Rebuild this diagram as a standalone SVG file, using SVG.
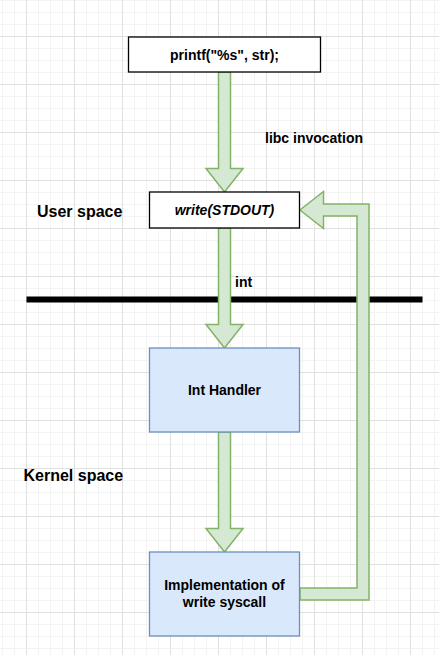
<svg xmlns="http://www.w3.org/2000/svg" width="439" height="655" viewBox="0 0 439 655">
  <defs>
    <pattern id="grid" patternUnits="userSpaceOnUse" x="26" y="36" width="48" height="48">
      <path d="M12.5,0V48M24.5,0V48M36.5,0V48M0,12.5H48M0,24.5H48M0,36.5H48" stroke="#f3f3f3" stroke-width="1" fill="none"/>
      <path d="M0.5,0V48M0,0.5H48" stroke="#e0e0e0" stroke-width="1" fill="none"/>
    </pattern>
    <style>
      .t { font-family: "Liberation Sans", Arial, sans-serif; font-weight: bold; fill: #000; }
      .plain { fill: #ffffff; stroke: #000000; stroke-width: 1.3; }
      .blue { fill: #dae8fc; stroke: #6c8ebf; stroke-width: 1.3; }
      .arrow { fill: #d5e8d4; stroke: #82b366; stroke-width: 1.5; stroke-linejoin: miter; }
    </style>
  </defs>
  <rect x="0" y="0" width="439" height="655" fill="#ffffff"/>
  <rect x="0" y="0" width="439" height="655" fill="url(#grid)"/>

  <g id="boundary">
    <line x1="26.5" y1="299.5" x2="422.5" y2="299.5" stroke="#000000" stroke-width="6"/>
  </g>

  <g id="connectors">
    <path class="arrow" d="M218.5,72 L230.5,72 L230.5,168.5 L243,168.5 L224.5,192 L206,168.5 L218.5,168.5 Z"/>
    <path class="arrow" d="M218.5,228 L230.5,228 L230.5,324.5 L243,324.5 L224.5,348 L206,324.5 L218.5,324.5 Z"/>
    <path class="arrow" d="M218.5,432 L230.5,432 L230.5,528.5 L243,528.5 L224.5,552 L206,528.5 L218.5,528.5 Z"/>
    <path class="arrow" d="M300,588 L357,588 L357,216 L323.5,216 L323.5,228.5 L300,210 L323.5,191.5 L323.5,204 L369,204 L369,600 L300,600 Z"/>
  </g>

  <g id="printf">
    <rect class="plain" x="128.5" y="37" width="192" height="35"/>
    <text class="t" x="224.5" y="59.5" font-size="14" text-anchor="middle">printf("%s", str);</text>
  </g>

  <g id="write">
    <rect class="plain" x="149.5" y="192" width="150" height="36"/>
    <text class="t" x="224.5" y="215" font-size="14" font-style="italic" text-anchor="middle">write(STDOUT)</text>
  </g>

  <g id="int-handler">
    <rect class="blue" x="149.5" y="348" width="150" height="84"/>
    <text class="t" x="224.5" y="395" font-size="14" text-anchor="middle">Int Handler</text>
  </g>

  <g id="impl">
    <rect class="blue" x="149.5" y="552" width="150" height="84"/>
    <text class="t" x="224.5" y="589.5" font-size="14" text-anchor="middle">Implementation of</text>
    <text class="t" x="224.5" y="606.5" font-size="14" text-anchor="middle">write syscall</text>
  </g>

  <g id="labels">
    <text class="t" x="265" y="143" font-size="14">libc invocation</text>
    <text class="t" x="235" y="287" font-size="14">int</text>
    <text class="t" x="37" y="216.5" font-size="16">User space</text>
    <text class="t" x="23.5" y="480.5" font-size="16">Kernel space</text>
  </g>
</svg>
